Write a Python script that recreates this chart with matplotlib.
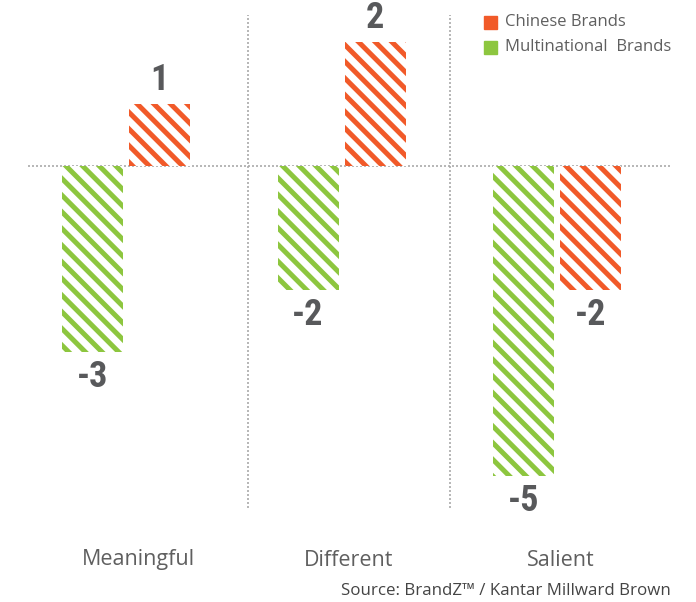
import matplotlib
matplotlib.use("Agg")
import matplotlib.pyplot as plt
from matplotlib import font_manager
import numpy as np
from matplotlib.patches import Rectangle

categories = ["Meaningful", "Different", "Salient"]
series_names = ["Chinese Brands", "Multinational  Brands"]
chinese = [1, 2, -2]
multinational = [-3, -2, -5]
source = "Source: BrandZ\u2122 / Kantar Millward Brown"

RED = "#f15a29"
GREEN = "#8dc63f"
GRAY = "#58595b"
TXT = "#5f5f5f"

plt.rcParams["hatch.linewidth"] = 3.6
plt.rcParams["font.family"] = ["Open Sans", "DejaVu Sans"]

names = {f.name for f in font_manager.fontManager.ttflist}
narrow = "DejaVu Sans"
for cand in ["Liberation Sans Narrow", "DejaVu Sans Condensed", "Roboto Condensed"]:
    if cand in names:
        narrow = cand
        break

W, H = 696, 602
fig = plt.figure(figsize=(W / 100, H / 100), dpi=100)

zero_px = 166
unit_px = 62
x0_px = 126
xunit_px = 215.5
ax_bottom_px = 508
ax_left_px, ax_right_px = 20, 690
ax = fig.add_axes([ax_left_px / W, 1 - ax_bottom_px / H,
                   (ax_right_px - ax_left_px) / W, ax_bottom_px / H])
ax.set_ylim(-(ax_bottom_px - zero_px) / unit_px, zero_px / unit_px)
ax.set_xlim((ax_left_px - x0_px) / xunit_px, (ax_right_px - x0_px) / xunit_px)
ax.axis("off")

x = np.arange(len(categories))
bw = 61 / xunit_px
off = 33.5 / xunit_px

ax.bar(x - off, multinational, width=bw, color="white", edgecolor=GREEN,
       hatch="\\\\", linewidth=0, zorder=3)
ax.bar(x + off, chinese, width=bw, color="white", edgecolor=RED,
       hatch="\\\\", linewidth=0, zorder=3)

ax.plot([(28 - x0_px) / xunit_px, (672 - x0_px) / xunit_px], [0, 0],
        color="#aaaaaa", linestyle=(0, (1.2, 1.2)), linewidth=1.2, zorder=2)
for sx in [(248 - x0_px) / xunit_px, (450 - x0_px) / xunit_px]:
    ax.plot([sx, sx], [-(508 - zero_px) / unit_px, (zero_px - 15) / unit_px],
            color="#aaaaaa", linestyle=(0, (1.2, 1.2)), linewidth=1.2, zorder=2)

vfont = dict(family=[narrow, "DejaVu Sans"], fontweight="bold", fontstretch="condensed",
             fontsize=26, color=GRAY, ha="center")
for xs, vals in [(x - off, multinational), (x + off, chinese)]:
    for xi, v in zip(xs, vals):
        if v >= 0:
            ax.text(xi, v + 0.1, f"{v}", va="bottom", **vfont)
        else:
            ax.text(xi, v - 0.12, f"{v}", va="top", **vfont)

label_shift_px = [12, 7, 4]
for xi, c, s in zip(x, categories, label_shift_px):
    fig.text((x0_px + xi * xunit_px + s) / W, 1 - 560 / H, c, ha="center",
             va="center", fontsize=15.5, color=TXT)

fig.text(671 / W, 1 - 591 / H, source, ha="right", va="center",
         fontsize=12.2, color="#444444")

for i, (name, col) in enumerate(zip(series_names, [RED, GREEN])):
    yc = 22 + i * 25
    fig.patches.append(Rectangle((484 / W, 1 - (yc + 6.5) / H), 13 / W, 13 / H,
                                 transform=fig.transFigure, color=col))
    fig.text(505 / W, 1 - yc / H, name, ha="left", va="center",
             fontsize=12, color=TXT)

fig.savefig("out.png", dpi=100)
